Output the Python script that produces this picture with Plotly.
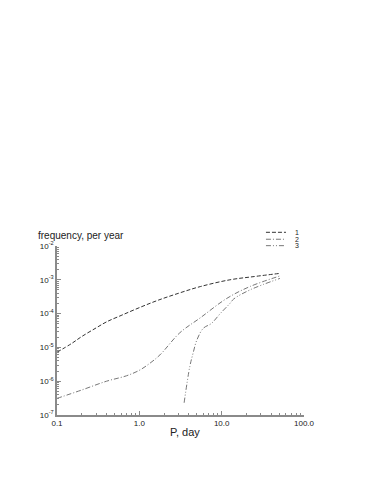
import plotly.graph_objects as go

# Curve 1
p1 = [0.1, 0.15, 0.2, 0.3, 0.4, 0.6, 1.0, 1.7, 3.0, 5.5, 12.6, 25.0, 51.0]
f1 = [7.2e-6, 1.3e-5, 2.1e-5, 3.8e-5, 5.7e-5, 8.8e-5, 1.5e-4, 2.5e-4, 4.0e-4, 6.3e-4, 1.0e-3, 1.25e-3, 1.55e-3]
# Curve 2
p2 = [0.1, 0.2, 0.4, 0.7, 1.0, 1.3, 1.78, 3.1, 5.5, 11.5, 22.0, 51.0]
f2 = [3.1e-7, 5.5e-7, 1.0e-6, 1.45e-6, 2.1e-6, 3.2e-6, 6.0e-6, 2.7e-5, 7.5e-5, 2.8e-4, 6.3e-4, 1.3e-3]
# Curve 3
p3 = [3.5, 4.1, 4.5, 5.0, 6.0, 7.5, 9.6, 12.6, 14.0, 22.0, 51.0]
f3 = [2.3e-7, 2.7e-6, 6.8e-6, 1.66e-5, 3.7e-5, 5.1e-5, 1.0e-4, 2.0e-4, 2.7e-4, 5.0e-4, 1.1e-3]

labels = ["1", "2", "3"]
x_tickvals = [0.1, 1, 10, 100]
x_ticktext = ["0.1", "1.0", "10.0", "100.0"]
y_tickvals = [1e-7, 1e-6, 1e-5, 1e-4, 1e-3, 1e-2]
y_ticktext = ["10<sup>-7</sup>", "10<sup>-6</sup>", "10<sup>-5</sup>", "10<sup>-4</sup>",
              "10<sup>-3</sup>", "10<sup>-2</sup>"]

colors = ["#333333", "#777777", "#777777"]
dashes = ["4px,2px", "5px,2px,1px,2px", "5px,2px,1px,2px,1px,2px"]

fig = go.Figure()
for p, f, c, d, lab in zip([p1, p2, p3], [f1, f2, f3], colors, dashes, labels):
    fig.add_trace(go.Scatter(x=p, y=f, mode="lines", name=lab,
                             line=dict(color=c, width=1, dash=d, shape="spline", smoothing=1.0),
                             showlegend=False))

minor_x = [m * 10 ** e for e in (-1, 0, 1) for m in range(2, 10)]
minor_y = [m * 10 ** e for e in (-7, -6, -5, -4, -3) for m in range(2, 10)]

axis_common = dict(showgrid=False, zeroline=False, showline=True, linecolor="#8a8a8a",
                   linewidth=1.5, ticks="inside", ticklen=4, tickcolor="#8a8a8a",
                   tickfont=dict(family="Liberation Sans, Arial", size=8, color="#222"))

fig.update_xaxes(type="log", range=[-1, 2], tickmode="array", tickvals=x_tickvals,
                 ticktext=x_ticktext,
                 minor=dict(tickmode="array", tickvals=minor_x, ticks="inside", ticklen=2,
                            tickcolor="#8a8a8a", showgrid=False),
                 **axis_common)
fig.update_yaxes(type="log", range=[-7, -2], tickmode="array", tickvals=y_tickvals,
                 ticktext=y_ticktext,
                 minor=dict(tickmode="array", tickvals=minor_y, ticks="inside", ticklen=2,
                            tickcolor="#8a8a8a", showgrid=False),
                 **axis_common)

# Legend drawn manually
leg_x0, leg_x1, leg_tx = 0.846, 0.927, 0.954
leg_y = [1.081, 1.040, 1.002]
shapes = []
annotations = []
for i, lab in enumerate(labels):
    shapes.append(dict(type="line", xref="paper", yref="paper", x0=leg_x0, x1=leg_x1,
                       y0=leg_y[i], y1=leg_y[i],
                       line=dict(color=colors[i], width=1, dash=dashes[i])))
    annotations.append(dict(xref="paper", yref="paper", x=leg_tx, y=leg_y[i], text=lab,
                            showarrow=False, xanchor="left", yanchor="middle",
                            font=dict(family="Liberation Sans, Arial", size=7, color="#222")))

annotations.append(dict(xref="paper", yref="paper", x=-0.085, y=1.065,
                        text="frequency, per year", showarrow=False, xanchor="left",
                        yanchor="middle",
                        font=dict(family="Liberation Sans, Arial", size=10, color="#222")))
annotations.append(dict(xref="paper", yref="paper", x=0.52, y=-0.10, text="P, day",
                        showarrow=False, xanchor="center", yanchor="middle",
                        font=dict(family="Liberation Sans, Arial", size=11, color="#222")))

# page body has an 8px default margin, so offsets are compensated
fig.update_layout(width=366, height=476, margin=dict(l=49, r=70, t=238, b=69),
                  plot_bgcolor="white", paper_bgcolor="white",
                  shapes=shapes, annotations=annotations)

fig.write_html("out.html")
